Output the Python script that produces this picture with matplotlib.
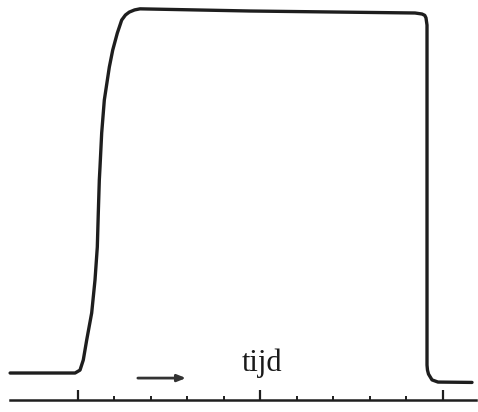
import matplotlib
matplotlib.use("Agg")
import matplotlib.pyplot as plt

# Pulse signal: time (tick units) and relative signal (baseline 0, plateau 1)
time = [-1.86, -0.22, -0.08, 0.055, 0.145, 0.238, 0.375, 0.466, 0.529, 0.556, 0.584, 0.603,
        0.649, 0.721, 0.858, 0.951, 1.077, 1.197, 1.300, 1.405, 1.550, 1.699,
        4.712, 9.233, 9.425, 9.500, 9.534, 9.562, 9.562, 9.562, 9.562, 9.575, 9.603, 9.699,
        9.863, 10.795]
signal = [0.000, 0.000, 0.000, 0.008, 0.036, 0.091, 0.166, 0.257, 0.348, 0.442, 0.533, 0.569,
          0.663, 0.754, 0.845, 0.892, 0.939, 0.975, 0.989, 0.997, 1.003, 1.006,
          1.000, 0.9945, 0.9917, 0.988, 0.981, 0.961, 0.754, 0.340, 0.022, 0.008, -0.003, -0.019,
          -0.025, -0.026]

tick_major = [0, 5, 10]
tick_minor = [1, 2, 3, 4, 6, 7, 8, 9]
axis_label = "tijd"
axis_level = -0.075
axis_start, axis_end = -1.86, 10.90
major_len, minor_len = 0.027, 0.011
arrow_start, arrow_end, arrow_level = 1.64, 2.96, -0.014

fig = plt.figure(figsize=(4.78, 4.12), dpi=100)
ax = fig.add_axes([0, 0, 1, 1])
ax.set_xlim(-2.137, 10.959)
ax.set_ylim(-0.1077, 1.0304)
ax.axis("off")

ink = "#1e1e1e"
ax.plot(time, signal, color=ink, lw=2.4, solid_capstyle="round", solid_joinstyle="round")

# time axis with upward ticks
ax.plot([axis_start, axis_end], [axis_level, axis_level], color=ink, lw=1.8)
ax.vlines(tick_major, axis_level, axis_level + major_len, color=ink, lw=1.6)
ax.vlines(tick_minor, axis_level, axis_level + minor_len, color=ink, lw=1.4)

ax.annotate("", xy=(arrow_end, arrow_level), xytext=(arrow_start, arrow_level),
            arrowprops=dict(arrowstyle="-|>,head_length=0.5,head_width=0.2", color="#333333", lw=2.0,
                            shrinkA=0, shrinkB=0))
ax.text(5.04, 0.0055, axis_label, ha="center", va="baseline", fontsize=22,
        family=["Liberation Serif", "DejaVu Serif"], color="#1a1a1a")

fig.savefig("out.png", dpi=100)
